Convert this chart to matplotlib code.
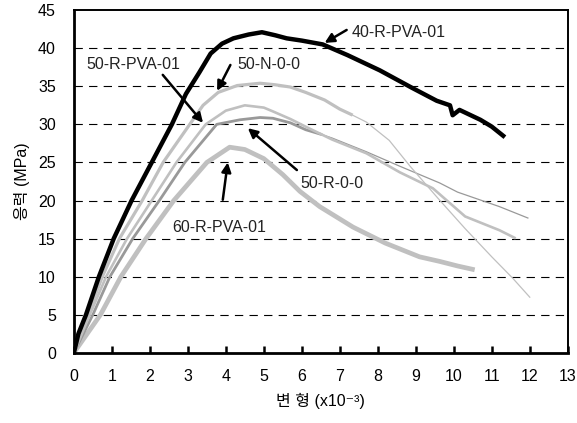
import matplotlib
matplotlib.use("Agg")
import matplotlib.pyplot as plt

plt.rcParams['font.family'] = ['Liberation Sans', 'Noto Sans CJK KR', 'DejaVu Sans']
plt.rcParams['lines.scale_dashes'] = False

# strain (x10^-3) / stress (MPa)
a_x = [0, 0.12, 0.32, 0.66, 1.05, 1.52, 2.05, 2.58, 2.95, 3.3, 3.6, 3.9, 4.2, 4.6, 4.95,
       5.3, 5.6, 6.0, 6.55, 7.2, 8.05, 8.9, 9.55, 9.9, 9.97, 10.15, 10.7, 11.0, 11.3]
a_y = [0, 2.5, 5, 10, 15, 20, 25, 30, 34, 36.8, 39.3, 40.6, 41.3, 41.8, 42.1,
       41.7, 41.3, 41.0, 40.5, 39.1, 37.1, 34.8, 33.1, 32.5, 31.2, 31.9, 30.6, 29.7, 28.5]

b_x = [0, 0.37, 0.75, 1.2, 1.8, 2.35, 3.05, 3.4, 3.8, 4.3, 4.9, 5.3, 5.7, 6.1, 6.6, 7.0, 7.3]
b_y = [0, 5, 10, 15, 20, 25, 30, 32.5, 34.2, 35.1, 35.4, 35.2, 34.9, 34.2, 33.2, 32.0, 31.3]
b_tail_x = [7.3, 7.7, 8.3, 8.85, 9.6, 10.3, 11.0, 11.55, 12.0]
b_tail_y = [31.3, 30.3, 27.9, 24.5, 20.2, 16.3, 12.6, 9.8, 7.3]

c_x = [0, 0.42, 0.85, 1.4, 2.05, 2.7, 3.47, 4.0, 4.5, 5.0, 5.24, 5.7, 6.1, 6.8, 7.7,
       8.58, 9.45, 10.3, 11.2, 11.6]
c_y = [0, 5, 10, 15, 20, 25, 30, 31.8, 32.5, 32.2, 31.7, 30.7, 29.7, 28.0, 26.2,
       23.7, 21.6, 17.9, 16.1, 15.1]

d_x = [0, 0.5, 0.95, 1.55, 2.25, 2.92, 3.76, 4.37, 4.9, 5.24, 5.7, 6.1, 6.5]
d_y = [0, 5, 10, 15, 20, 25, 30, 30.6, 30.9, 30.8, 30.2, 29.3, 28.7]
d_tail_x = [6.5, 6.8, 7.7, 8.58, 9.63, 10.1, 11.2, 11.95]
d_tail_y = [28.7, 28.2, 26.4, 24.5, 22.3, 21.1, 19.2, 17.7]

e_x = [0, 0.7, 1.24, 1.9, 2.63, 3.5, 4.1, 4.5, 5.0, 5.5, 5.95, 6.47, 7.35, 8.2, 9.1,
       9.63, 10.1, 10.55]
e_y = [0, 5, 10, 15, 20, 25, 27.0, 26.7, 25.5, 23.4, 21.2, 19.2, 16.5, 14.4, 12.6,
       12.0, 11.4, 10.9]

# label text, text anchor, arrow tail, arrow tip
labels = ["40-R-PVA-01", "50-N-0-0", "50-R-PVA-01", "50-R-0-0", "60-R-PVA-01"]
label_xy = [(7.32, 42.1), (4.3, 37.8), (0.34, 37.8), (5.95, 22.2), (2.58, 16.5)]
arrow_from = [(7.18, 42.4), (4.12, 37.8), (2.34, 36.5), (5.87, 24.0), (3.92, 20.1)]
arrow_to = [(6.6, 40.7), (3.77, 34.4), (3.4, 30.2), (4.58, 29.5), (4.05, 25.0)]

light = "#c0c0c0"
mid = "#999999"

fig = plt.figure(figsize=(5.77, 4.23), dpi=100)
ax = fig.add_axes([0.128, 0.166, 0.856, 0.810])

# horizontal dashed grid
for g in range(5, 45, 5):
    ax.axhline(g, color="black", lw=0.8, linestyle=(0, (6, 4.5)), zorder=1)

ax.plot(e_x, e_y, color=light, lw=3.4, solid_capstyle="butt", zorder=2)
ax.plot(d_x, d_y, color=mid, lw=2.0, zorder=3)
ax.plot(d_tail_x, d_tail_y, color=mid, lw=0.9, zorder=3)
ax.plot(c_x, c_y, color=light, lw=1.9, zorder=3)
ax.plot(b_x, b_y, color=light, lw=2.3, zorder=3)
ax.plot(b_tail_x, b_tail_y, color=light, lw=0.9, zorder=3)
ax.plot(a_x, a_y, color="black", lw=3.2, zorder=4)

for text, pos, src, dst in zip(labels, label_xy, arrow_from, arrow_to):
    ax.text(pos[0], pos[1], text, fontsize=11.5, ha="left", va="center", color="#222222", zorder=5)
    ax.annotate("", xy=dst, xytext=src,
                arrowprops=dict(arrowstyle="-|>", color="black", lw=1.8, mutation_scale=14,
                                shrinkA=0, shrinkB=0), zorder=5)

ax.set_xlim(0, 13)
ax.set_ylim(0, 45)
ax.set_xticks(range(0, 14))
ax.set_yticks(range(0, 50, 5))
ax.tick_params(axis="x", direction="in", length=5, width=1.8, pad=12, labelsize=11.5)
ax.tick_params(axis="y", length=0, pad=13, labelsize=11.5)

for side in ["left", "bottom"]:
    ax.spines[side].set_linewidth(2.0)
for side in ["top", "right"]:
    ax.spines[side].set_linewidth(1.4)

# unicode superscript keeps the hangul on the normal text path
ax.set_xlabel("변 형 (x10⁻³)", fontsize=11.5, labelpad=6)
ax.set_ylabel("응력 (MPa)", fontsize=11.5, labelpad=6)

fig.savefig("out.png", dpi=100)
